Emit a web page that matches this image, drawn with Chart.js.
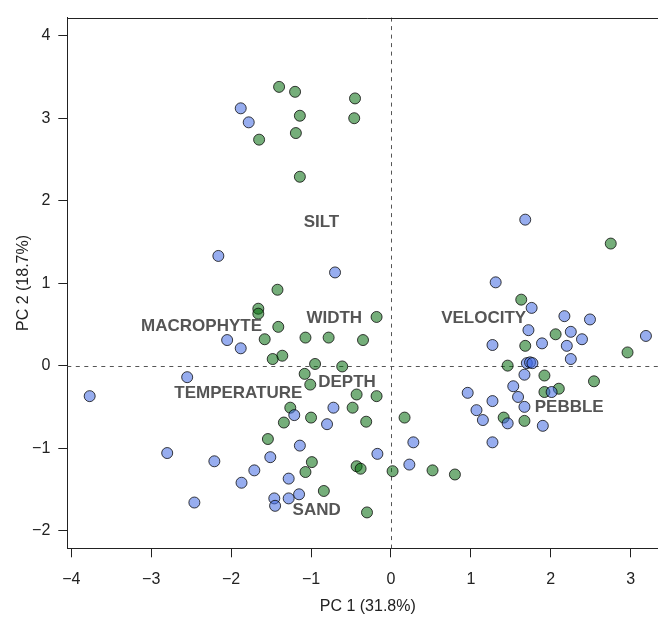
<!DOCTYPE html>
<html>
<head>
<meta charset="utf-8">
<script src="https://cdn.jsdelivr.net/npm/chart.js@4/dist/chart.umd.min.js"></script>
<style>
html, body { margin: 0; padding: 0; overflow: hidden; background: #fff; }
#wrap { width: 680px; height: 618px; }
</style>
</head>
<body>
<div id="wrap"><canvas id="c" width="680" height="618"></canvas></div>
<script>
// ---- data ----
const blueX = [-1.88,-1.78,-2.16,-0.70,-2.05,-1.88,-2.55,-3.77,-1.21,-0.72,-0.80,-1.14,-2.80,-0.17,-1.51,-2.21,-1.71,-1.28,-1.87,-1.15,-1.28,-1.46,-1.45,-2.46,
  0.96,1.27,1.07,1.15,1.46,1.90,1.53,1.59,1.67,2.01,1.27,0.28,0.23,1.68,1.31,1.76,2.17,2.49,3.19,1.72,2.25,2.39,1.27,1.89,2.20,2.25,1.70,1.74,1.77,1.67];
const blueY = [3.12,2.95,1.33,1.13,0.31,0.21,-0.14,-0.37,-0.60,-0.51,-0.71,-0.97,-1.06,-1.07,-1.11,-1.16,-1.27,-1.37,-1.42,-1.56,-1.61,-1.61,-1.70,-1.66,
  -0.33,-0.43,-0.54,-0.66,-0.70,-0.73,-0.25,-0.38,-0.50,-0.32,-0.93,-0.93,-1.20,1.77,1.01,0.70,0.60,0.56,0.36,0.43,0.41,0.32,0.25,0.27,0.24,0.08,0.03,0.04,0.03,-0.11];
const greenX = [-1.40,-1.20,-0.45,-1.14,-0.46,-1.19,-1.65,-1.14,-1.42,-1.66,-1.66,-0.18,-1.41,-1.58,-1.07,-0.78,-0.35,-1.36,-1.48,-0.95,-0.61,-1.08,-1.01,-0.43,-0.18,
  -1.26,-0.48,-1.34,-1.00,-0.31,-1.54,-0.99,-0.43,-0.38,0.02,-1.07,-0.84,-0.30,0.17,1.41,1.67,1.92,2.10,2.54,0.52,0.80,2.75,1.63,2.06,1.68,2.96,1.46,1.92];
const greenY = [3.38,3.32,3.24,3.03,3.00,2.82,2.74,2.29,0.92,0.69,0.63,0.59,0.47,0.32,0.34,0.34,0.31,0.12,0.08,0.02,-0.01,-0.10,-0.23,-0.35,-0.37,
  -0.51,-0.51,-0.69,-0.63,-0.68,-0.89,-1.17,-1.22,-1.25,-1.28,-1.29,-1.52,-1.78,-0.63,-0.63,-0.67,-0.32,-0.28,-0.19,-1.27,-1.32,1.48,0.80,0.38,0.24,0.16,0.00,-0.12];
const varNames = ["SILT","MACROPHYTE","WIDTH","VELOCITY","DEPTH","TEMPERATURE","PEBBLE","SAND"];
const varX = [-0.87,-2.37,-0.71,1.16,-0.55,-1.91,2.23,-0.93];
const varY = [1.74,0.48,0.57,0.57,-0.20,-0.34,-0.51,-1.76];
const xTicks = [-4,-3,-2,-1,0,1,2,3];
const yTicks = [-2,-1,0,1,2,3,4];
const xTitle = "PC 1 (31.8%)";
const yTitle = "PC 2 (18.7%)";

const toPts = (xs, ys) => xs.map((x, i) => ({x: x, y: ys[i]}));
const FONT = "'Liberation Sans', Arial, Helvetica, sans-serif";

const overlay = {
  id: 'overlay',
  beforeDatasetsDraw(chart) {
    const {ctx, chartArea: a, scales: {x, y}} = chart;
    ctx.save();
    ctx.strokeStyle = '#555';
    ctx.lineWidth = 1;
    ctx.setLineDash([4, 4.5]);
    const x0 = Math.round(x.getPixelForValue(0)) + 0.5;
    const y0 = Math.round(y.getPixelForValue(0)) + 0.5;
    ctx.beginPath();
    ctx.moveTo(x0, a.top); ctx.lineTo(x0, a.bottom);
    ctx.moveTo(a.left, y0); ctx.lineTo(a.right, y0);
    ctx.stroke();
    ctx.restore();
  },
  afterDatasetsDraw(chart) {
    const {ctx, chartArea: a, scales: {x, y}} = chart;
    ctx.save();
    ctx.font = "bold 17px " + FONT;
    ctx.fillStyle = '#555';
    ctx.textAlign = 'center';
    ctx.textBaseline = 'middle';
    varNames.forEach((n, i) => {
      ctx.fillText(n, x.getPixelForValue(varX[i]), y.getPixelForValue(varY[i]));
    });
    ctx.strokeStyle = '#222';
    ctx.lineWidth = 1;
    ctx.setLineDash([]);
    ctx.beginPath();
    ctx.moveTo(a.left, Math.round(a.top) + 0.5);
    ctx.lineTo(a.right, Math.round(a.top) + 0.5);
    ctx.lineTo(a.right, a.bottom);
    ctx.stroke();
    ctx.restore();
  }
};

new Chart(document.getElementById('c'), {
  type: 'scatter',
  data: {
    datasets: [
      { data: toPts(blueX, blueY), backgroundColor: 'rgba(65,105,225,0.55)', borderColor: 'rgba(0,0,0,0.75)', borderWidth: 1, pointRadius: 5.5 },
      { data: toPts(greenX, greenY), backgroundColor: 'rgba(0,105,10,0.54)', borderColor: 'rgba(0,0,0,0.75)', borderWidth: 1, pointRadius: 5.5 }
    ]
  },
  options: {
    responsive: false,
    animation: false,
    events: [],
    layout: { padding: { left: 0, top: 12.7, right: 11.7, bottom: 0 } },
    plugins: { legend: { display: false }, tooltip: { enabled: false } },
    scales: {
      x: {
        type: 'linear', min: -4.05, max: 3.47,
        afterBuildTicks: (s) => { s.ticks = xTicks.map(v => ({value: v})); },
        afterFit: (s) => { s.height = 69.7; },
        grid: { drawOnChartArea: false, drawTicks: true, tickLength: 9, color: '#222' },
        border: { display: true, color: '#222', width: 1 },
        ticks: { color: '#222', font: { family: FONT, size: 16 }, padding: 13, maxRotation: 0,
                 callback: (v) => String(v).replace('-', '\u2212') },
        title: { display: true, text: xTitle, color: '#222', font: { family: FONT, size: 16 }, padding: { top: 0, bottom: 2 } }
      },
      y: {
        type: 'linear', min: -2.215, max: 4.22,
        afterBuildTicks: (s) => { s.ticks = yTicks.map(v => ({value: v})); },
        afterFit: (s) => { s.width = 67.3; },
        grid: { drawOnChartArea: false, drawTicks: true, tickLength: 9, color: '#222' },
        border: { display: true, color: '#222', width: 1 },
        ticks: { color: '#222', font: { family: FONT, size: 16 }, padding: 8,
                 callback: (v) => String(v).replace('-', '\u2212') },
        title: { display: true, text: yTitle, color: '#222', font: { family: FONT, size: 16 }, padding: { top: 14, bottom: 0 } }
      }
    }
  },
  plugins: [overlay]
});
</script>
</body>
</html>
